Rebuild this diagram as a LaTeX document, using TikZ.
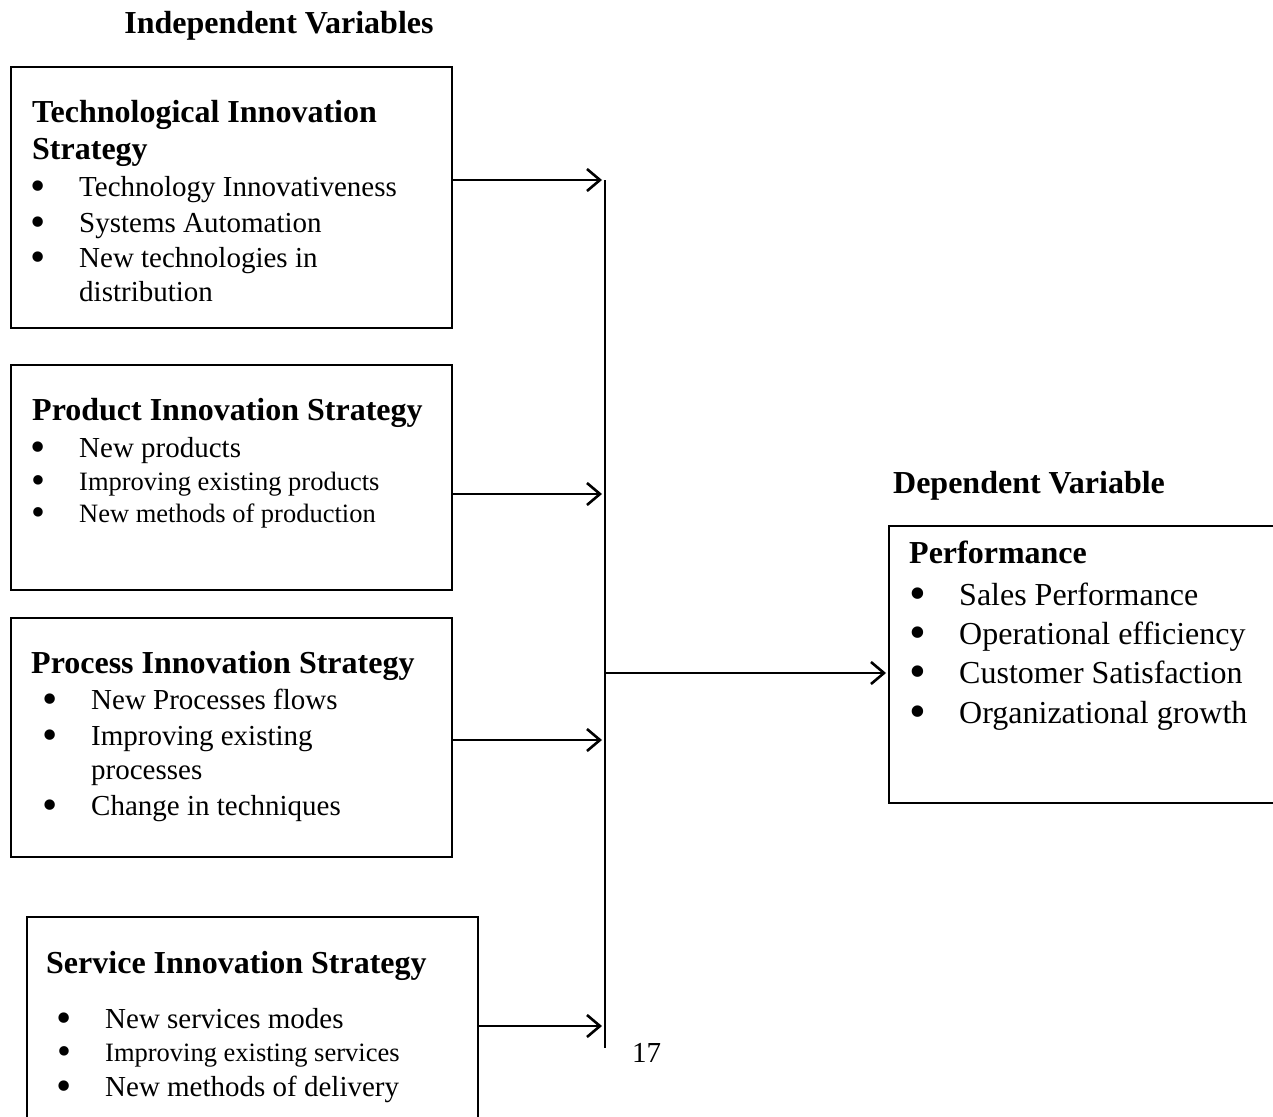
\documentclass[tikz,border=0pt]{standalone}
\usepackage{fontspec}
\setmainfont{Liberation Serif}
\usetikzlibrary{arrows.meta}

\newcommand{\itm}[1]{\makebox[0pt]{\raisebox{-0.15em}{\scalebox{1.5}{\textbullet}}}\hspace{41pt}#1}

\tikzset{
  varbox/.style={draw=black, line width=1.5pt, anchor=north west, inner sep=0pt},
  title/.style={anchor=base, inner sep=0pt, font=\fontsize{32}{38}\selectfont\bfseries},
  head/.style={anchor=base west, inner sep=0pt, font=\fontsize{32}{38}\selectfont\bfseries},
  item/.style={anchor=base west, inner sep=0pt, font=\fontsize{29}{35}\selectfont},
  smallitem/.style={anchor=base west, inner sep=0pt, font=\fontsize{26.5}{32}\selectfont},
  bigitem/.style={anchor=base west, inner sep=0pt, font=\fontsize{32}{38}\selectfont},
  link/.style={line width=2.8pt, -{Straight Barb[length=13pt, width=22pt, line width=2.6pt]}}
}

\begin{document}
\begin{tikzpicture}[x=1pt, y=-1pt]
\useasboundingbox (0,0) rectangle (1273,1116);
\clip (0,0) rectangle (1273,1116);

% titles
\node[title] (indep) at (279,34) {Independent Variables};
\node[title] (dep) at (1029,493) {Dependent Variable};

% boxes
\node[varbox, minimum width=441pt, minimum height=261pt] (techbox) at (10,66) {};
\node[varbox, minimum width=441pt, minimum height=225pt] (prodbox) at (10,364) {};
\node[varbox, minimum width=441pt, minimum height=239pt] (procbox) at (10,617) {};
\node[varbox, minimum width=451pt, minimum height=260pt] (servbox) at (26,916) {};
\node[varbox, minimum width=420pt, minimum height=277pt] (perfbox) at (888,525) {};

% technological
\node[head] (tech1) at (32,122) {Technological Innovation};
\node[head] (tech2) at (32,159) {Strategy};
\node[item] (techa) at (38,196) {\itm{Technology Innovativeness}};
\node[item] (techb) at (38,232) {\itm{Systems Automation}};
\node[item] (techc) at (38,267) {\itm{New technologies in}};
\node[item] (techd) at (79,301) {distribution};

% product
\node[head] (prod1) at (32,420) {Product Innovation Strategy};
\node[item] (proda) at (38,457) {\itm{New products}};
\node[smallitem] (prodb) at (38,490) {\itm{Improving existing products}};
\node[smallitem] (prodc) at (38,522) {\itm{New methods of production}};

% process
\node[head] (proc1) at (31,673) {Process Innovation Strategy};
\node[item] (proca) at (50,709) {\itm{New Processes flows}};
\node[item] (procb) at (50,745) {\itm{Improving existing}};
\node[item] (procc) at (91,779) {processes};
\node[item] (procd) at (50,815) {\itm{Change in techniques}};

% service
\node[head] (serv1) at (46,973) {Service Innovation Strategy};
\node[item] (serva) at (64,1028) {\itm{New services modes}};
\node[smallitem] (servb) at (64,1061) {\itm{Improving existing services}};
\node[item] (servc) at (64,1096) {\itm{New methods of delivery}};

% performance
\node[head] (perf1) at (909,563) {Performance};
\node[bigitem] (perfa) at (918,605) {\itm{Sales Performance}};
\node[bigitem] (perfb) at (918,644) {\itm{Operational efficiency}};
\node[bigitem] (perfc) at (918,683) {\itm{Customer Satisfaction}};
\node[bigitem] (perfd) at (918,723) {\itm{Organizational growth}};

\node[item] (page) at (632,1062) {17};

% connectors
\coordinate (top) at (605,180);
\coordinate (bot) at (605,1048);
\coordinate (j1) at (602,180);
\coordinate (j2) at (602,494);
\coordinate (j3) at (602,740);
\coordinate (j4) at (602,1026);
\coordinate (mid) at (605,673);

\draw[line width=1.5pt] (top) -- (bot);
\draw[link] (techbox.east |- j1) -- (j1);
\draw[link] (prodbox.east |- j2) -- (j2);
\draw[link] (procbox.east |- j3) -- (j3);
\draw[link] (servbox.east |- j4) -- (j4);
\draw[link] (mid) -- ([xshift=-2pt]mid -| perfbox.west);

\end{tikzpicture}
\end{document}
